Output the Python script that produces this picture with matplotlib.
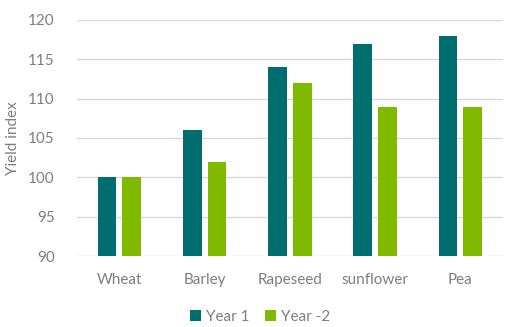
#! /usr/bin/env python3

import numpy as np
import matplotlib
matplotlib.use("Agg")
import matplotlib.pyplot as plt

crops = ["Wheat", "Barley", "Rapeseed", "sunflower", "Pea"]
year1 = [100, 106, 114, 117, 118]
year2 = [100, 102, 112, 109, 109]
series_names = ["Year 1", "Year -2"]

teal = "#006E6E"
green = "#7FBA00"
grey = "#7F7F7F"

plt.rcParams['font.family'] = ['Lato', 'DejaVu Sans']

fig = plt.figure(figsize=(5.05, 3.27), dpi=100)
ax = fig.add_axes([0.152, 0.217, 0.844, 0.722])

x = np.arange(len(crops))
w = 0.22
ax.bar(x - 0.145, year1, width=w, color=teal, label=series_names[0], zorder=3)
ax.bar(x + 0.145, year2, width=w, color=green, label=series_names[1], zorder=3)

ax.set_xlim(-0.5, len(crops) - 0.5)
ax.set_ylim(90, 120)
ax.set_yticks(np.arange(90, 121, 5))
ax.set_xticks(x)
ax.set_xticklabels(crops)
ax.yaxis.grid(True, color="#D9D9D9", linewidth=1, zorder=0)
for s in ax.spines.values():
    s.set_visible(False)
ax.tick_params(axis='both', length=0, colors=grey, labelsize=11)
ax.tick_params(axis='x', pad=12)
ax.tick_params(axis='y', pad=16)
ax.set_ylabel("Yield index", color=grey, fontsize=11, labelpad=6)

ax.legend(loc='upper center', bbox_to_anchor=(0.43, -0.17), ncol=2, frameon=False,
          fontsize=11, labelcolor=grey, handlelength=0.75, handleheight=0.75,
          handletextpad=0.3, columnspacing=1.0)

plt.savefig("out.png", dpi=100)
